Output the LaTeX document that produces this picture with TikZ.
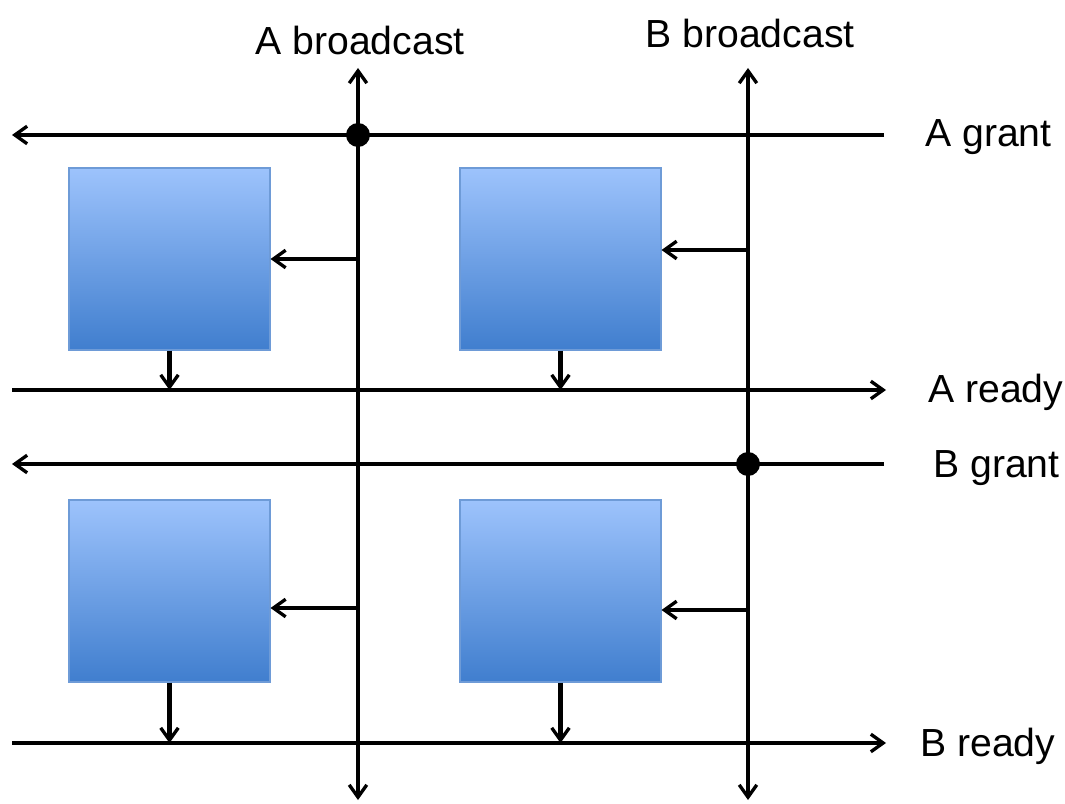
\documentclass[tikz,border=0pt]{standalone}
\usepackage{fontspec}
\setmainfont{Liberation Sans}
\usetikzlibrary{arrows.meta,calc}
\definecolor{boxtop}{RGB}{157,195,252}
\definecolor{boxbot}{RGB}{64,126,206}
\definecolor{boxedge}{RGB}{110,155,215}
\begin{document}
\begin{tikzpicture}[x=0.02cm,y=-0.02cm,
  tip/.style={Straight Barb[length=7pt,width=10pt,line width=1.9pt]},
  wire/.style={line width=2.3pt,black,arrows={-Straight Barb[length=7pt,width=10pt,line width=1.9pt]}},
  twoway/.style={line width=2.3pt,black,arrows={Straight Barb[length=7pt,width=10pt,line width=1.9pt]-Straight Barb[length=7pt,width=10pt,line width=1.9pt]}},
  blk/.style={draw=boxedge,line width=0.6pt,top color=boxtop,bottom color=boxbot,
    minimum width=4.02cm,minimum height=3.64cm,inner sep=0pt},
  lbl/.style={font=\fontsize{22.3}{26}\selectfont,inner sep=0pt},
  joint/.style={circle,fill=black,minimum size=0.48cm,inner sep=0pt}]
\useasboundingbox (0,0) rectangle (1065,804);

% processing elements
\node[blk] (b11) at (169.5,259) {};
\node[blk] (b12) at (560.5,259) {};
\node[blk] (b21) at (169.5,591) {};
\node[blk] (b22) at (560.5,591) {};

% end points of the buses
\coordinate (abTop) at (358,68);
\coordinate (abBot) at (358,800);
\coordinate (bbTop) at (748,68);
\coordinate (bbBot) at (748,800);
\coordinate (agL) at (12,135);
\coordinate (agR) at (884,135);
\coordinate (arL) at (12,390);
\coordinate (arR) at (886,390);
\coordinate (bgL) at (12,464);
\coordinate (bgR) at (884,464);
\coordinate (brL) at (12,743);
\coordinate (brR) at (886,743);

% horizontal buses
\draw[wire] (agR) -- (agL);
\draw[wire] (arL) -- (arR);
\draw[wire] (bgR) -- (bgL);
\draw[wire] (brL) -- (brR);

% vertical broadcast buses
\draw[twoway] (abBot) -- (abTop);
\draw[twoway] (bbBot) -- (bbTop);

% junctions
\node[joint] (ja) at (abTop |- agL) {};
\node[joint] (jb) at (bbTop |- bgL) {};

% broadcast into each element
\coordinate (in11) at (b11.east);
\coordinate (in12) at ($(b12.east)+(0,-9)$);
\coordinate (in21) at ($(b21.east)+(0,17)$);
\coordinate (in22) at ($(b22.east)+(0,19)$);
\draw[wire] (abTop |- in11) -- (in11);
\draw[wire] (bbTop |- in12) -- (in12);
\draw[wire] (abTop |- in21) -- (in21);
\draw[wire] (bbTop |- in22) -- (in22);

% ready outputs
\draw[wire] (b11.south) -- (b11.south |- arL);
\draw[wire] (b12.south) -- (b12.south |- arL);
\draw[wire] (b21.south) -- (b21.south |- brL);
\draw[wire] (b22.south) -- (b22.south |- brL);

% labels
\node[lbl,anchor=base] (tA) at (360,55) {A broadcast};
\node[lbl,anchor=base] (tB) at (750,48) {B broadcast};
\node[lbl,anchor=base west] (tAg) at (925,147) {A grant};
\node[lbl,anchor=base west] (tAr) at (928,402) {A ready};
\node[lbl,anchor=base west] (tBg) at (933,477) {B grant};
\node[lbl,anchor=base west] (tBr) at (920,756) {B ready};
\end{tikzpicture}
\end{document}
